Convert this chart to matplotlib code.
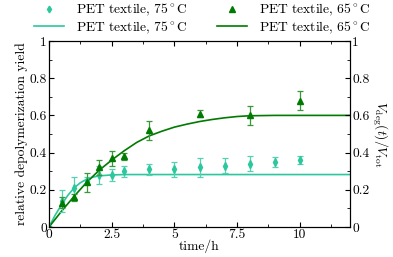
import numpy as np
import matplotlib
matplotlib.use("Agg")
import matplotlib.pyplot as plt
from matplotlib.ticker import MultipleLocator, FormatStrFormatter

plt.rcParams['font.family'] = ['cmr10', 'DejaVu Serif']
plt.rcParams['mathtext.fontset'] = 'cm'
plt.rcParams['axes.formatter.use_mathtext'] = True
plt.rcParams['font.size'] = 9.7

# measured points, PET textile 75 C
t75 = [0, 0.5, 1, 1.5, 2, 2.5, 3, 4, 5, 6, 7, 8, 9, 10]
y75 = [0, 0.14, 0.21, 0.25, 0.28, 0.28, 0.30, 0.31, 0.31, 0.32, 0.33, 0.34, 0.35, 0.36]
e75 = [0, 0.06, 0.06, 0.02, 0.05, 0.03, 0.03, 0.03, 0.04, 0.05, 0.04, 0.04, 0.025, 0.02]

# measured points, PET textile 65 C
t65 = [0, 0.5, 1, 1.5, 2, 2.5, 3, 4, 6, 8, 10]
y65 = [0, 0.13, 0.16, 0.24, 0.32, 0.37, 0.38, 0.52, 0.61, 0.60, 0.68]
e65 = [0, 0.03, 0.02, 0.05, 0.04, 0.04, 0.02, 0.05, 0.02, 0.05, 0.05]

# fitted curves
tf75 = [0, 0.25, 0.5, 0.75, 1, 1.25, 1.5, 1.75, 2, 2.5, 3, 4, 12]
yf75 = [0, 0.065, 0.12, 0.17, 0.21, 0.238, 0.257, 0.268, 0.275, 0.280, 0.282, 0.282, 0.282]
tf65 = [0, 0.5, 1, 1.5, 2, 2.5, 3, 3.5, 4, 4.5, 5, 5.5, 6, 6.5, 7, 7.5, 8, 9, 12]
yf65 = [0, 0.085, 0.165, 0.24, 0.305, 0.36, 0.41, 0.455, 0.49, 0.515, 0.537, 0.553, 0.567,
        0.578, 0.587, 0.594, 0.598, 0.600, 0.600]

c75 = '#2cc79c'
c65 = '#007a00'

fig = plt.figure(figsize=(3.93, 2.57), dpi=100)
ax = fig.add_axes([0.1247, 0.1167, 0.7659, 0.7238])

h1 = ax.errorbar(t75, y75, yerr=e75, fmt='d', color=c75, ms=4, capsize=2,
                 elinewidth=0.9, capthick=0.9, ecolor='#55d0b0', zorder=3)
h2, = ax.plot(tf75, yf75, '-', color=c75, lw=1.2)
h3 = ax.errorbar(t65, y65, yerr=e65, fmt='^', color=c65, ms=5, capsize=2,
                 elinewidth=0.9, capthick=0.9, ecolor='#3c963c', zorder=4)
h4, = ax.plot(tf65, yf65, '-', color=c65, lw=1.2)

ax.set_xlim(0, 12)
ax.set_ylim(0, 1)
ax.xaxis.set_major_locator(MultipleLocator(2.5))
ax.xaxis.set_minor_locator(MultipleLocator(1.25))
ax.yaxis.set_major_locator(MultipleLocator(0.2))
ax.yaxis.set_minor_locator(MultipleLocator(0.1))
ax.xaxis.set_major_formatter(FormatStrFormatter('%g'))
ax.yaxis.set_major_formatter(FormatStrFormatter('%g'))
ax.tick_params(which='both', direction='in', top=True, right=True, pad=1.5)
ax.tick_params(which='major', length=3.5)
ax.tick_params(which='minor', length=2)

ax2 = ax.twinx()
ax2.set_ylim(0, 1)
ax2.yaxis.set_major_locator(MultipleLocator(0.2))
ax2.yaxis.set_minor_locator(MultipleLocator(0.1))
ax2.yaxis.set_major_formatter(FormatStrFormatter('%g'))
ax2.tick_params(which='both', direction='in', pad=1.5)
ax2.tick_params(which='major', length=3.5)
ax2.tick_params(which='minor', length=2)
ax2.set_ylabel(r'$V_{\rm deg}(t)/V_{\rm tot}$', rotation=-90, labelpad=14)

ax.set_xlabel('time/h', labelpad=-1)
ax.set_ylabel('relative depolymerization yield', labelpad=1)

lab75 = r'PET textile, 75$^\circ$C'
lab65 = r'PET textile, 65$^\circ$C'
leg = fig.legend([h1[0], h2, h3[0], h4], [lab75, lab75, lab65, lab65], ncol=2, frameon=False,
                 loc='upper center', bbox_to_anchor=(0.515, 1.04), columnspacing=2.2,
                 handlelength=2.2, handletextpad=0.9, labelspacing=0.1, markerscale=0.85)

fig.savefig('out.png', dpi=100)
